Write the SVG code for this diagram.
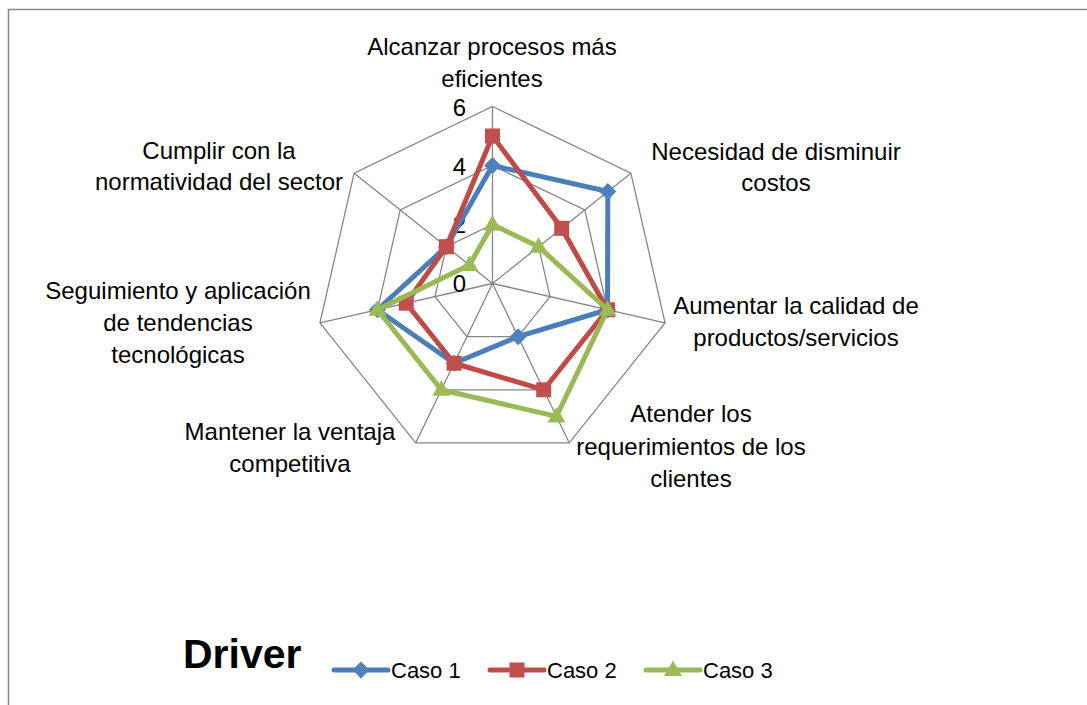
<svg xmlns="http://www.w3.org/2000/svg" width="1087" height="705" viewBox="0 0 1087 705">
<style>
.lbl{font-family:"Liberation Sans",Arial,sans-serif;font-size:24px;fill:#000;text-anchor:middle}
.num{font-family:"Liberation Sans",Arial,sans-serif;font-size:24px;fill:#000;text-anchor:end}
.leg{font-family:"Liberation Sans",Arial,sans-serif;font-size:22px;fill:#000}
.grid{fill:none;stroke:#868686;stroke-width:1.3}
.s1{fill:none;stroke:#4A7EBB;stroke-width:5;stroke-linejoin:round}
.s2{fill:none;stroke:#BE4B48;stroke-width:5;stroke-linejoin:round}
.s3{fill:none;stroke:#98B954;stroke-width:5;stroke-linejoin:round}
</style>
<defs>
<marker id="mDia" markerUnits="userSpaceOnUse" markerWidth="20" markerHeight="20" refX="10" refY="10" overflow="visible"><path d="M10,1.5 L18.5,10 10,18.5 1.5,10Z" fill="#4F81BD"/></marker>
<marker id="mSq" markerUnits="userSpaceOnUse" markerWidth="20" markerHeight="20" refX="10" refY="10" overflow="visible"><rect x="2.5" y="2.5" width="15" height="15" fill="#C0504D"/></marker>
<marker id="mTri" markerUnits="userSpaceOnUse" markerWidth="20" markerHeight="20" refX="10" refY="10" overflow="visible"><path d="M10,0.5 L19,16 1,16Z" fill="#9BBB59"/></marker>
</defs>
<rect width="1087" height="705" fill="#fff"/>
<path d="M8.5,705 V9.5 H1087" fill="none" stroke="#888" stroke-width="1.5"/>

<g id="grid">
<polygon class="grid" points="492.5,224.5 538.63,246.71 550.02,296.63 518.1,336.66 466.9,336.66 434.98,296.63 446.37,246.71"/>
<polygon class="grid" points="492.5,165.5 584.76,209.93 607.54,309.76 543.7,389.81 441.3,389.81 377.46,309.76 400.24,209.93"/>
<polygon class="grid" points="492.5,106.5 630.88,173.14 665.06,322.89 569.3,442.97 415.7,442.97 319.94,322.89 354.12,173.14"/>
<path class="grid" d="M492.5,283.5 L492.5,106.5 M492.5,283.5 L630.88,173.14 M492.5,283.5 L665.06,322.89 M492.5,283.5 L569.3,442.97 M492.5,283.5 L415.7,442.97 M492.5,283.5 L319.94,322.89 M492.5,283.5 L354.12,173.14"/>
</g>

<g id="axis-values">
<text class="num" x="466" y="116">6</text>
<text class="num" x="466" y="174.5">4</text>
<text class="num" x="466" y="233">2</text>
<text class="num" x="466" y="291.5">0</text>
</g>

<g id="connectors">
<polygon id="caso1" class="s1" points="492.5,165.5 607.82,191.54 607.54,309.76 518.1,336.66 454.1,363.24 377.46,309.76 446.37,246.71" marker-start="url(#mDia)" marker-mid="url(#mDia)"/>
<polygon id="caso2" class="s2" points="492.5,136 561.69,228.32 607.54,309.76 543.7,389.81 454.1,363.24 406.22,303.19 446.37,246.71" marker-start="url(#mSq)" marker-mid="url(#mSq)"/>
<polygon id="caso3" class="s3" points="492.5,224.5 538.63,246.71 607.54,309.76 556.5,416.39 441.3,389.81 377.46,309.76 469.44,265.11" marker-start="url(#mTri)" marker-mid="url(#mTri)"/>
</g>

<g id="cat0"><text class="lbl" x="492" y="55">Alcanzar procesos más</text><text class="lbl" x="492" y="87">eficientes</text></g>
<g id="cat1"><text class="lbl" x="776" y="160">Necesidad de disminuir</text><text class="lbl" x="776" y="191">costos</text></g>
<g id="cat2"><text class="lbl" x="796" y="314">Aumentar la calidad de</text><text class="lbl" x="796" y="346">productos/servicios</text></g>
<g id="cat3"><text class="lbl" x="691" y="422">Atender los</text><text class="lbl" x="691" y="455">requerimientos de los</text><text class="lbl" x="691" y="487">clientes</text></g>
<g id="cat4"><text class="lbl" x="290" y="440">Mantener la ventaja</text><text class="lbl" x="290" y="472">competitiva</text></g>
<g id="cat5"><text class="lbl" x="178" y="299">Seguimiento y aplicación</text><text class="lbl" x="178" y="331">de tendencias</text><text class="lbl" x="178" y="363">tecnológicas</text></g>
<g id="cat6"><text class="lbl" x="219" y="159">Cumplir con la</text><text class="lbl" x="219" y="190">normatividad del sector</text></g>

<g id="title"><text x="183" y="668" font-family="'Liberation Sans',Arial,sans-serif" font-size="41" font-weight="bold" fill="#000">Driver</text></g>

<g id="legend">
<path d="M334,670 H388" class="s1" stroke-linecap="round"/>
<path d="M334,670 L361,670 L388,670" fill="none" stroke="none" marker-mid="url(#mDia)"/>
<text class="leg" x="391" y="678">Caso 1</text>
<path d="M490,670 H544" class="s2" stroke-linecap="round"/>
<path d="M490,670 L517,670 L544,670" fill="none" stroke="none" marker-mid="url(#mSq)"/>
<text class="leg" x="547" y="678">Caso 2</text>
<path d="M646,670 H700" class="s3" stroke-linecap="round"/>
<path d="M646,670 L673,670 L700,670" fill="none" stroke="none" marker-mid="url(#mTri)"/>
<text class="leg" x="703" y="678">Caso 3</text>
</g>
</svg>
